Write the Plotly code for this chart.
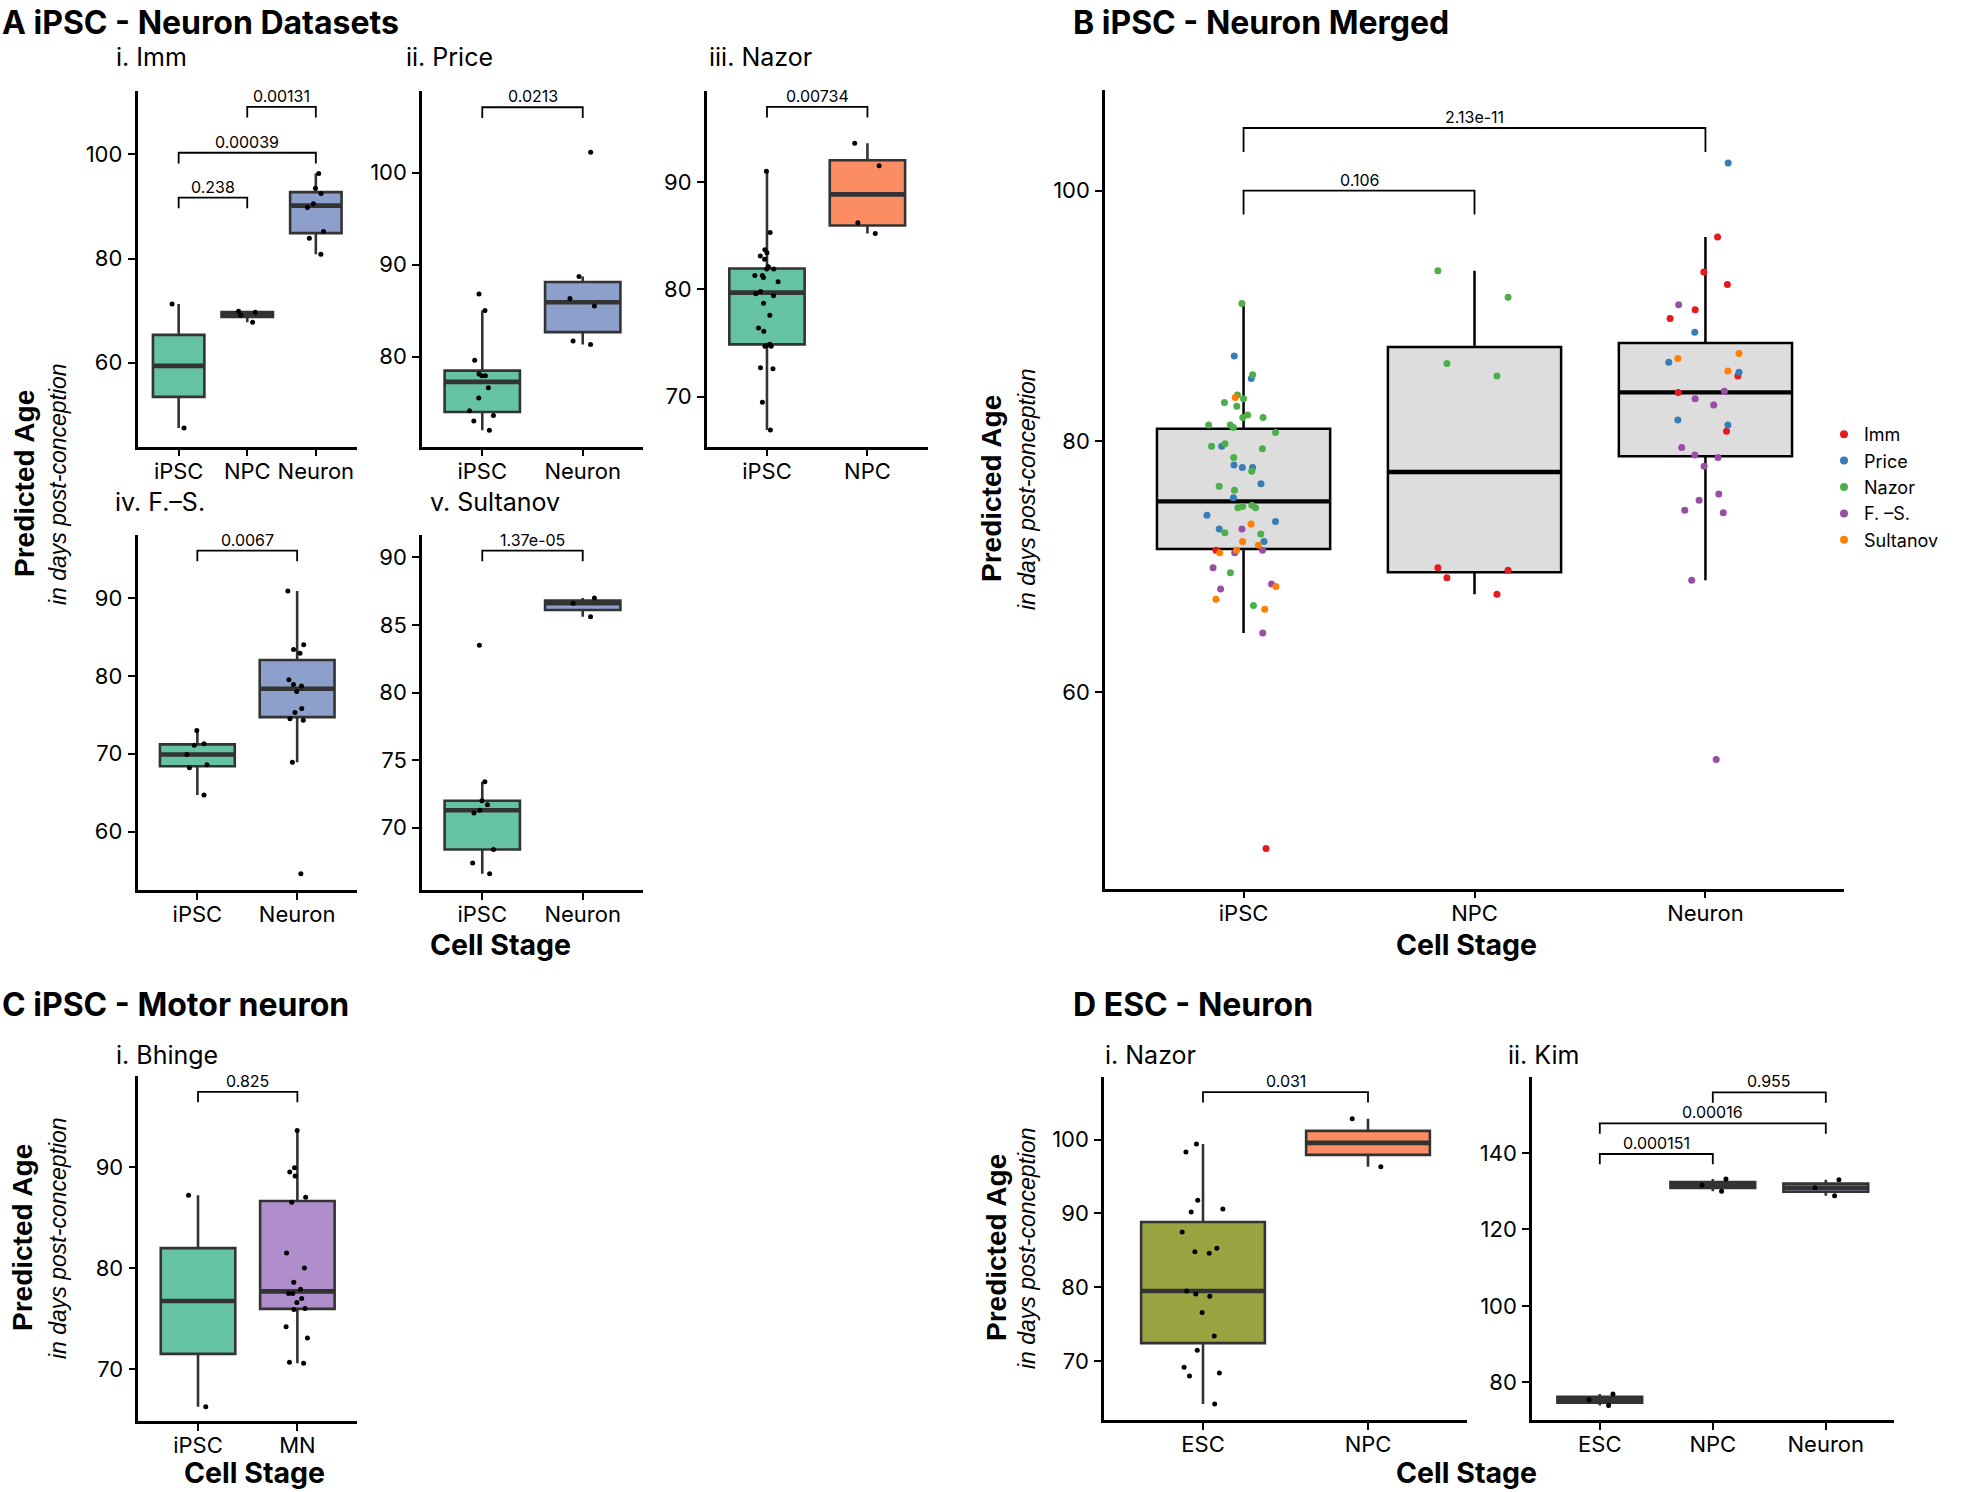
import numpy as np
import plotly.graph_objects as go

W, H = 1968, 1492
FONT = "Inter, Liberation Sans, Arial, sans-serif"
FONT_V = "Liberation Sans, Arial, Helvetica, sans-serif"

# ---------------- data (predicted age, days post-conception) ----------------
imm_ipsc = [71.3, 47.5]
imm_npc = [69.9, 69.7, 69.1, 67.8]
imm_neuron = [96.3, 93.5, 92.5, 90.5, 89.8, 85.2, 83.9, 80.8]
price_ipsc = [86.8, 85.0, 79.6, 78.1, 77.9, 77.9, 76.6, 75.5, 74.1, 73.6, 73.0, 72.0]
price_neuron = [102.2, 88.7, 86.3, 85.5, 81.7, 81.3]
nazor_ipsc = [91.0, 85.3, 83.7, 83.4, 83.1, 82.8, 82.1, 81.9, 81.9, 81.3, 81.3, 81.1, 80.7, 79.8,
              79.6, 79.4, 78.7, 77.6, 76.4, 76.1, 74.9, 74.8, 74.7, 74.7, 72.7, 72.6, 69.5, 66.9]
nazor_npc = [93.6, 91.5, 86.2, 85.2]
fs_ipsc = [73.0, 71.3, 71.1, 69.9, 68.6, 68.2, 64.7]
fs_neuron = [90.9, 84.0, 83.4, 82.9, 79.5, 78.9, 78.7, 78.0, 75.8, 75.3, 74.5, 74.3, 68.9, 54.6]
sultanov_ipsc = [83.5, 73.4, 72.0, 71.7, 71.3, 71.1, 68.4, 67.4, 66.6]
sultanov_neuron = [87.0, 86.6, 85.6]
bhinge_ipsc = [87.2, 66.3]
bhinge_mn = [93.6, 89.9, 89.5, 89.1, 87.0, 86.5, 81.5, 80.0, 78.6, 77.9, 77.5, 77.5, 77.0, 76.6,
             76.0, 75.9, 74.2, 73.1, 70.7, 70.6]
dnazor_esc = [99.4, 98.3, 91.8, 90.6, 90.2, 87.5, 85.3, 84.8, 84.6, 79.5, 79.1, 78.8, 76.6, 73.4,
              71.5, 69.2, 68.4, 68.0, 64.2]
dnazor_npc = [102.8, 96.3]
kim_esc = [77.0, 75.5, 74.0]
kim_npc = [133.2, 131.6, 130.0]
kim_neuron = [133.0, 130.9, 128.8]

merged = {
    "Imm": {"iPSC": imm_ipsc, "NPC": imm_npc, "Neuron": imm_neuron},
    "Price": {"iPSC": price_ipsc, "Neuron": price_neuron},
    "Nazor": {"iPSC": nazor_ipsc, "NPC": nazor_npc},
    "F. \u2013S.": {"iPSC": fs_ipsc, "Neuron": fs_neuron},
    "Sultanov": {"iPSC": sultanov_ipsc, "Neuron": sultanov_neuron},
}

# p-value brackets: (group1, group2, y, label)
br_imm = [("iPSC", "NPC", 91.7, "0.238"), ("iPSC", "Neuron", 100.3, "0.00039"), ("NPC", "Neuron", 109.1, "0.00131")]
br_price = [("iPSC", "Neuron", 107.1, "0.0213")]
br_nazor = [("iPSC", "NPC", 97.0, "0.00734")]
br_fs = [("iPSC", "Neuron", 96.1, "0.0067")]
br_sult = [("iPSC", "Neuron", 90.5, "1.37e-05")]
br_merged = [("iPSC", "NPC", 100.0, "0.106"), ("iPSC", "Neuron", 105.0, "2.13e-11")]
br_bhinge = [("iPSC", "MN", 97.4, "0.825")]
br_dnazor = [("ESC", "NPC", 106.4, "0.031")]
br_kim = [("ESC", "NPC", 139.7, "0.000151"), ("ESC", "Neuron", 147.7, "0.00016"), ("NPC", "Neuron", 155.8, "0.955")]

# ---------------- styles ----------------
C_IPSC, C_NPC, C_NEU, C_MN, C_ESC = "#66C2A5", "#FC8D62", "#8DA0CB", "#AF8ECB", "#9AA441"
DS_COL = {"Imm": "#E41A1C", "Price": "#377EB8", "Nazor": "#4DAF4A", "F. \u2013S.": "#984EA3", "Sultanov": "#FF7F00"}

fig = go.Figure()
layout = dict(width=W, height=H, autosize=False, margin=dict(l=0, r=0, t=0, b=0),
              paper_bgcolor="white", plot_bgcolor="white", boxmode="overlay",
              font=dict(family=FONT, color="black"), annotations=[])
ann = layout["annotations"]

common = dict(showline=True, linecolor="black", linewidth=2.5, ticks="outside", ticklen=7,
              tickwidth=2.2, tickcolor="black", showgrid=False, zeroline=False, fixedrange=True,
              tickfont=dict(size=22, color="black", family=FONT))


def names(i):
    return ("x" if i == 1 else f"x{i}"), ("y" if i == 1 else f"y{i}")


def stats(v):
    a = np.sort(np.asarray(v, float))
    q1, med, q3 = np.percentile(a, [25, 50, 75])
    iqr = q3 - q1
    lo = a[a >= q1 - 1.5 * iqr].min()
    hi = a[a <= q3 + 1.5 * iqr].max()
    return q1, med, q3, lo, hi


def add_axes(i, px, py, yr, ticks, cats):
    xa, ya = names(i)
    xk = "xaxis" if i == 1 else f"xaxis{i}"
    yk = "yaxis" if i == 1 else f"yaxis{i}"
    layout[xk] = dict(domain=[px[0] / W, px[1] / W], anchor=ya, type="category",
                      categoryorder="array", categoryarray=cats,
                      range=[-0.6, len(cats) - 0.4], ticklabelstandoff=-4, **common)
    layout[yk] = dict(domain=[1 - py[1] / H, 1 - py[0] / H], anchor=xa, range=list(yr),
                      tickvals=ticks, ticklabelstandoff=1, **common)


def add_box(i, cat, vals, fill, lc, lw, mw):
    xa, ya = names(i)
    q1, med, q3, lo, hi = stats(vals)
    fig.add_trace(go.Box(x=[cat], q1=[q1], median=[med], q3=[q3], lowerfence=[lo], upperfence=[hi],
                         fillcolor=fill, line=dict(color=lc, width=lw), whiskerwidth=0, width=0.75,
                         xaxis=xa, yaxis=ya, showlegend=False, hoverinfo="skip"))
    fig.add_trace(go.Box(x=[cat], q1=[med], median=[med], q3=[med], lowerfence=[med], upperfence=[med],
                         fillcolor="rgba(0,0,0,0)", line=dict(color=lc, width=mw), whiskerwidth=0,
                         width=0.75, xaxis=xa, yaxis=ya, showlegend=False, hoverinfo="skip"))


def add_points(i, cat, vals, color, size, jitter=0.4):
    xa, ya = names(i)
    fig.add_trace(go.Box(x=[cat] * len(vals), y=vals, boxpoints="all", jitter=jitter, pointpos=0,
                         fillcolor="rgba(0,0,0,0)", line=dict(color="rgba(0,0,0,0)", width=0),
                         marker=dict(color=color, size=size), width=0.75,
                         xaxis=xa, yaxis=ya, showlegend=False, hoverinfo="skip"))


def add_brackets(i, cats, brs, yr):
    xa, ya = names(i)
    tip = 0.03 * (yr[1] - yr[0])
    for g1, g2, yb, lab in brs:
        fig.add_trace(go.Scatter(x=[g1, g1, g2, g2], y=[yb - tip, yb, yb, yb - tip], mode="lines",
                                 line=dict(color="black", width=1.8), xaxis=xa, yaxis=ya,
                                 showlegend=False, hoverinfo="skip"))
        ann.append(dict(x=(cats.index(g1) + cats.index(g2)) / 2, y=yb, xref=xa, yref=ya, text=lab,
                        showarrow=False, yanchor="bottom", yshift=-1,
                        font=dict(size=16, color="black", family=FONT)))


def text(x, y, s, size, bold=False, italic=False, angle=0, xanchor="left", family=FONT):
    ann.append(dict(x=x / W, y=1 - y / H, xref="paper", yref="paper", text=s, showarrow=False,
                    xanchor=xanchor, yanchor="middle", textangle=angle,
                    font=dict(size=size, color="black", family=family,
                              weight="bold" if bold else "normal",
                              style="italic" if italic else "normal")))


# ---------------- small-multiple panels ----------------
panels = [
    (1, (137.5, 357), (90.7, 446.7), (43.9, 112.2), [60, 80, 100], ["iPSC", "NPC", "Neuron"],
     [imm_ipsc, imm_npc, imm_neuron], [C_IPSC, C_NPC, C_NEU], br_imm),
    (2, (422, 643), (90.7, 446.7), (70.2, 108.9), [80, 90, 100], ["iPSC", "Neuron"],
     [price_ipsc, price_neuron], [C_IPSC, C_NEU], br_price),
    (3, (706.7, 927.7), (90.7, 446.7), (65.35, 98.5), [70, 80, 90], ["iPSC", "NPC"],
     [nazor_ipsc, nazor_npc], [C_IPSC, C_NPC], br_nazor),
    (4, (137.5, 357), (535, 890), (52.5, 98.1), [60, 70, 80, 90], ["iPSC", "Neuron"],
     [fs_ipsc, fs_neuron], [C_IPSC, C_NEU], br_fs),
    (5, (422, 643), (535, 890), (65.4, 91.65), [70, 75, 80, 85, 90], ["iPSC", "Neuron"],
     [sultanov_ipsc, sultanov_neuron], [C_IPSC, C_NEU], br_sult),
    (7, (138.4, 357), (1076, 1421), (64.9, 98.97), [70, 80, 90], ["iPSC", "MN"],
     [bhinge_ipsc, bhinge_mn], [C_IPSC, C_MN], br_bhinge),
    (8, (1104, 1467), (1076.7, 1420), (62.05, 108.5), [70, 80, 90, 100], ["ESC", "NPC"],
     [dnazor_esc, dnazor_npc], [C_ESC, C_NPC], br_dnazor),
    (9, (1532, 1893.6), (1076.7, 1420), (70.2, 159.9), [80, 100, 120, 140], ["ESC", "NPC", "Neuron"],
     [kim_esc, kim_npc, kim_neuron], [C_ESC, C_NPC, C_NEU], br_kim),
]

for i, px, py, yr, ticks, cats, groups, fills, brs in panels:
    add_axes(i, px, py, yr, ticks, cats)
    for cat, vals, fill in zip(cats, groups, fills):
        add_box(i, cat, vals, fill, "#333333", 2.6, 4.6)
    for cat, vals in zip(cats, groups):
        add_points(i, cat, vals, "black", 5)
    add_brackets(i, cats, brs, yr)

# ---------------- merged panel B ----------------
b_cats = ["iPSC", "NPC", "Neuron"]
b_yr = (44.3, 108.0)
add_axes(6, (1105, 1844), (90.4, 888.6), b_yr, [60, 80, 100], b_cats)
for cat in b_cats:
    vals = [v for ds in merged.values() for v in ds.get(cat, [])]
    add_box(6, cat, vals, "#DDDDDD", "black", 2.5, 4.4)
for ds, d in merged.items():
    for cat, vals in d.items():
        add_points(6, cat, vals, DS_COL[ds], 7, jitter=0.5)
add_brackets(6, b_cats, br_merged, b_yr)
for ds in merged:
    fig.add_trace(go.Scatter(x=[None], y=[None], mode="markers", name=ds, xaxis="x6", yaxis="y6",
                             marker=dict(color=DS_COL[ds], size=8), showlegend=True))
layout["showlegend"] = True
layout["legend"] = dict(x=1824 / W, y=1 - 416 / H, xanchor="left", yanchor="top",
                        font=dict(size=18, color="black", family=FONT), itemwidth=30,
                        tracegroupgap=0, bgcolor="rgba(0,0,0,0)")

# ---------------- text ----------------
text(0, 23, "A iPSC - Neuron Datasets", 32, bold=True)
text(1071, 23, "B iPSC - Neuron Merged", 32, bold=True)
text(0, 1004, "C iPSC - Motor neuron", 32, bold=True)
text(1071, 1004, "D ESC - Neuron", 32, bold=True)

for x, y, s in [(114, 57, "i. Imm"), (404, 57, "ii. Price"), (707, 57, "iii. Nazor"),
                (113, 502, "iv. F.\u2013S."), (428, 502, "v. Sultanov"), (114, 1055, "i. Bhinge"),
                (1103, 1055, "i. Nazor"), (1506, 1055, "ii. Kim")]:
    text(x, y, s, 25)

for xb, xi, yc in [(24, 58, 484), (991, 1027, 489), (22, 58, 1238), (996, 1027, 1248)]:
    text(xb, yc, "Predicted Age", 28, bold=True, angle=-90, xanchor="center", family=FONT_V)
    text(xi, yc, "in days post-conception", 23, italic=True, angle=-90, xanchor="center", family=FONT_V)

for x, y in [(500, 944), (1466, 944), (254, 1472), (1466, 1472)]:
    text(x, y, "Cell Stage", 28.5, bold=True, xanchor="center")

fig.update_layout(**layout)
fig.write_html("out.html", config={"displayModeBar": False},
               post_script="document.body.style.margin='0';document.body.style.padding='0';")
